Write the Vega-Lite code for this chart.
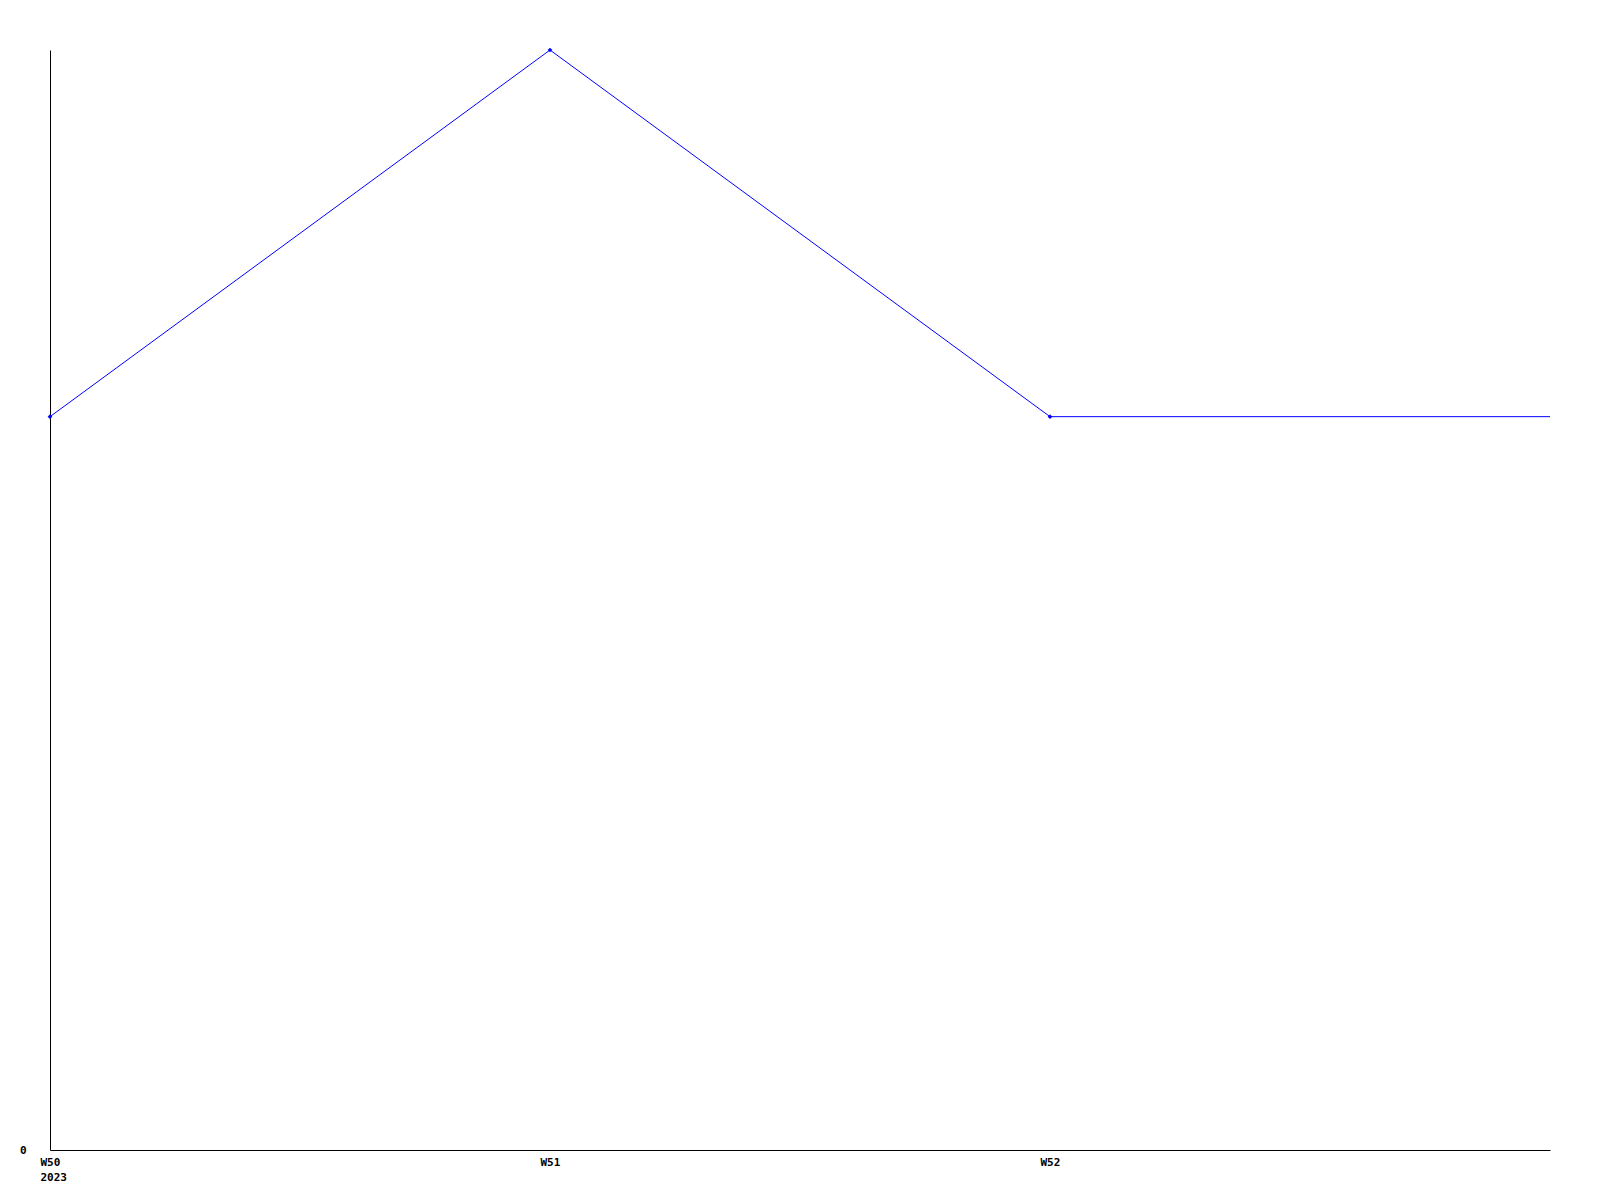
{
  "$schema": "https://vega.github.io/schema/vega-lite/v6.json",
  "autosize": "none",
  "padding": {"left": 50, "top": 50, "right": 50, "bottom": 50},
  "width": 1500,
  "height": 1100,
  "background": "white",
  "config": {
    "view": {"stroke": null},
    "axis": {
      "labelFont": "DejaVu Sans Mono",
      "labelFontWeight": "bold",
      "labelFontSize": 11,
      "labelColor": "black",
      "domainColor": "black",
      "domainWidth": 1,
      "ticks": false,
      "grid": false,
      "title": null
    }
  },
  "data": {
    "values": [
      {"week": "W50", "value": 2},
      {"week": "W51", "value": 3},
      {"week": "W52", "value": 2},
      {"week": "W53", "value": 2}
    ]
  },
  "encoding": {
    "x": {
      "field": "week",
      "type": "ordinal",
      "scale": {"type": "point", "padding": 0, "domain": ["W50", "W51", "W52", "W53"]},
      "axis": {
        "values": ["W50", "W51", "W52"],
        "labelAngle": 0,
        "labelAlign": "left",
        "labelOffset": -10,
        "labelBaseline": "top",
        "labelPadding": 6,
        "labelLineHeight": 15,
        "labelExpr": "datum.value == 'W50' ? ['W50', '2023'] : datum.label"
      }
    },
    "y": {
      "field": "value",
      "type": "quantitative",
      "scale": {"domain": [0, 3], "nice": false, "zero": true},
      "axis": {"values": [0], "labelPadding": 24, "labelBaseline": "middle"}
    }
  },
  "layer": [
    {"mark": {"type": "line", "color": "#0000ff", "strokeWidth": 1}},
    {
      "transform": [{"filter": "datum.week != 'W53'"}],
      "mark": {"type": "point", "shape": "diamond", "filled": true, "size": 22, "color": "#0000ff", "opacity": 1}
    }
  ]
}
